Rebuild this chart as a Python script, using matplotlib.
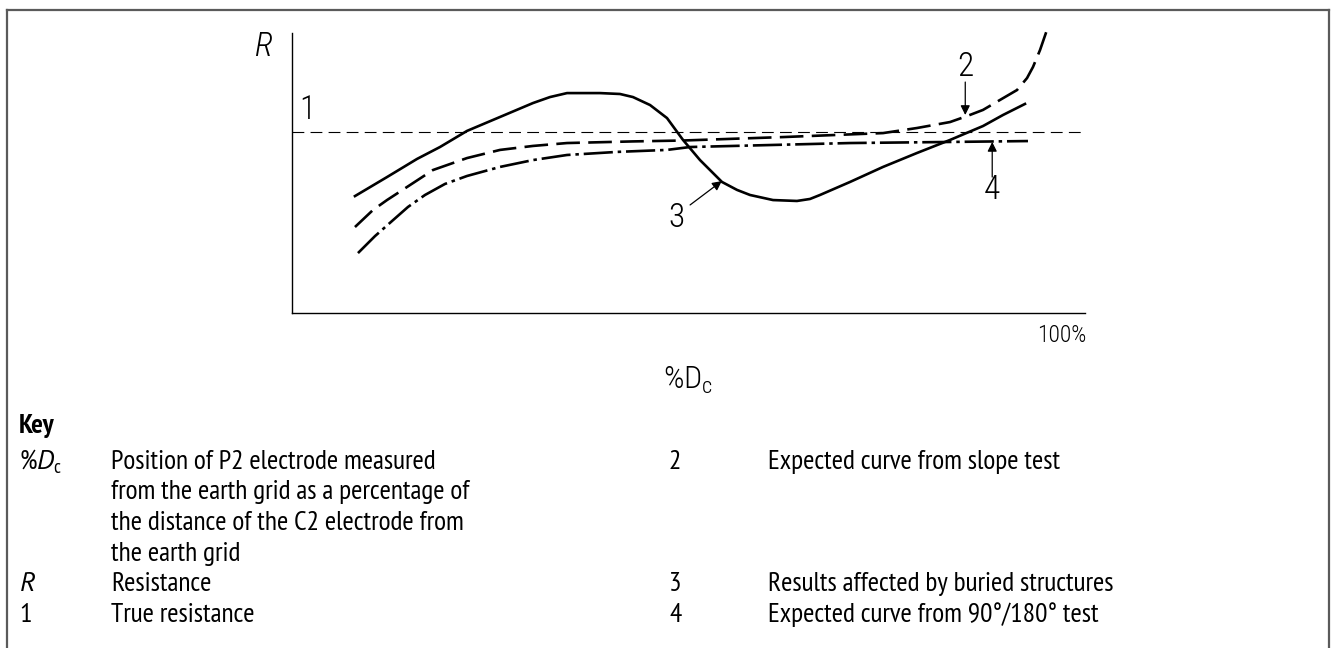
import matplotlib
matplotlib.use("Agg")
import matplotlib.pyplot as plt
from matplotlib.lines import Line2D

KEY_FONT = ['PT Sans Narrow', 'DejaVu Sans']
ISO_FONT = ['Roboto Condensed', 'DejaVu Sans']

plt.rcParams['font.family'] = KEY_FONT
plt.rcParams['mathtext.fontset'] = 'custom'
plt.rcParams['mathtext.rm'] = 'PT Sans Narrow'
plt.rcParams['mathtext.it'] = 'PT Sans:italic'
plt.rcParams['mathtext.sf'] = 'Roboto Condensed:light'
plt.rcParams['lines.scale_dashes'] = False

# values: x = % of Dc, y = R relative to the true resistance
true_r = 1.0

x_buried = [7.94, 11.98, 15.76, 18.66, 22.07, 26.23, 30.39, 32.53, 34.68, 38.84, 41.36, 43.00,
            45.15, 47.29, 49.31, 51.45, 54.22, 56.12, 57.76, 60.66, 63.68, 65.32, 66.58, 70.37,
            74.53, 78.81, 82.98, 87.14, 89.66, 92.43]
r_buried = [0.646, 0.751, 0.851, 0.917, 1.006, 1.083, 1.160, 1.193, 1.215, 1.215, 1.210, 1.193,
            1.149, 1.077, 0.956, 0.845, 0.724, 0.680, 0.652, 0.624, 0.619, 0.630, 0.652, 0.724,
            0.807, 0.884, 0.956, 1.033, 1.094, 1.155]

x_slope = [7.94, 10.21, 11.98, 14.50, 17.78, 22.07, 26.23, 30.39, 34.68, 43.00, 49.31, 61.92,
           74.53, 78.81, 82.98, 85.12, 87.14, 89.28, 91.43, 92.69, 93.44, 94.33, 95.33]
r_slope = [0.475, 0.569, 0.624, 0.696, 0.790, 0.856, 0.901, 0.923, 0.939, 0.948, 0.953, 0.972,
           0.994, 1.022, 1.055, 1.088, 1.122, 1.177, 1.232, 1.298, 1.359, 1.453, 1.580]

x_9018 = [8.32, 10.47, 12.61, 14.63, 16.77, 19.29, 22.07, 26.23, 30.39, 34.68, 40.98, 47.29,
          50.19, 70.37, 82.98, 92.81]
r_9018 = [0.331, 0.425, 0.508, 0.586, 0.652, 0.713, 0.757, 0.807, 0.845, 0.873, 0.890, 0.901,
          0.917, 0.939, 0.945, 0.950]

key_left = ['%$\\mathit{D}_\\mathrm{c}$', '$\\mathit{R}$', '1']
key_left_text = [['Position of P2 electrode measured', 'from the earth grid as a percentage of',
                  'the distance of the C2 electrode from', 'the earth grid'],
                 ['Resistance'], ['True resistance']]
key_right = ['2', '3', '4']
key_right_text = ['Expected curve from slope test', 'Results affected by buried structures',
                  'Expected curve from 90°/180° test']

W, H = 1333, 648
fig = plt.figure(figsize=(W / 100, H / 100), dpi=100)


def fx(px):
    return px / W


def fy(py):
    return 1 - py / H


ax = fig.add_axes([fx(292), fy(313), 793 / W, 280 / H])
ax.set_xlim(0, 100)
ax.set_ylim(0, 280 / 181)
for s in ['top', 'right']:
    ax.spines[s].set_visible(False)
for s in ['left', 'bottom']:
    ax.spines[s].set_linewidth(1.0)
ax.set_xticks([]), ax.set_yticks([])

ax.axhline(true_r, color='black', lw=0.8, ls=(0, (8.5, 4.5)))
ax.plot(x_buried, r_buried, color='black', lw=1.9, solid_joinstyle='round')
ax.plot(x_slope, r_slope, color='black', lw=1.9, ls=(0, (17, 6)), clip_on=False)
ax.plot(x_9018, r_9018, color='black', lw=1.9, ls=(0, (21, 3.5, 2.5, 3.5)))

num_kw = dict(fontsize=24, ha='center', va='center', family=ISO_FONT, fontweight='light')
ax.text(-3.7, 1.47, 'R', clip_on=False, style='italic', **num_kw)
ax.text(1.9, 1.12, '1', **num_kw)
ax.text(84.9, 1.359, '2', **num_kw)
ax.text(48.5, 0.525, '3', **num_kw)
ax.text(88.3, 0.680, '4', **num_kw)

arr = dict(arrowstyle='-|>', color='black', lw=0.9, mutation_scale=14, shrinkA=0, shrinkB=0)
ax.annotate('', xy=(84.9, 1.094), xytext=(84.9, 1.276), arrowprops=arr)
ax.annotate('', xy=(88.3, 0.945), xytext=(88.3, 0.751), arrowprops=arr)
ax.annotate('', xy=(54.2, 0.729), xytext=(50.2, 0.597), arrowprops=arr)

fig.text(fx(1086), fy(335), '100%', fontsize=17, ha='right', va='center',
         family=ISO_FONT, fontweight='light')
fig.text(fx(688), fy(380), '%$\\mathsf{D_c}$', fontsize=23, ha='center', va='center',
         family=ISO_FONT, fontweight='light')

# frame
frame_kw = dict(color='#5a5a5a', lw=1.6, transform=fig.transFigure)
fig.add_artist(Line2D([fx(7), fx(1329)], [fy(10), fy(10)], **frame_kw))
fig.add_artist(Line2D([fx(7), fx(7)], [fy(10), 0], **frame_kw))
fig.add_artist(Line2D([fx(1329), fx(1329)], [fy(10), 0], **frame_kw))

# key: fit the font size to the width of one line in the reference (294 px)
probe = fig.text(0, 0, key_right_text[0], fontsize=16)
fig.canvas.draw()
fs = 16 * 294 / probe.get_window_extent().width
probe.remove()

fig.text(fx(19), fy(426), 'Key', fontsize=fs, fontweight='bold', va='center')
rows_y = [462, 584, 614.5]
step = 30.5
for lab, lines, y in zip(key_left, key_left_text, rows_y):
    fig.text(fx(19), fy(y), lab, fontsize=fs, va='center')
    for i, line in enumerate(lines):
        fig.text(fx(111), fy(y + i * step), line, fontsize=fs, va='center')
for lab, txt, y in zip(key_right, key_right_text, rows_y):
    fig.text(fx(669), fy(y), lab, fontsize=fs, va='center')
    fig.text(fx(768), fy(y), txt, fontsize=fs, va='center')

fig.savefig('out.png', dpi=100)
